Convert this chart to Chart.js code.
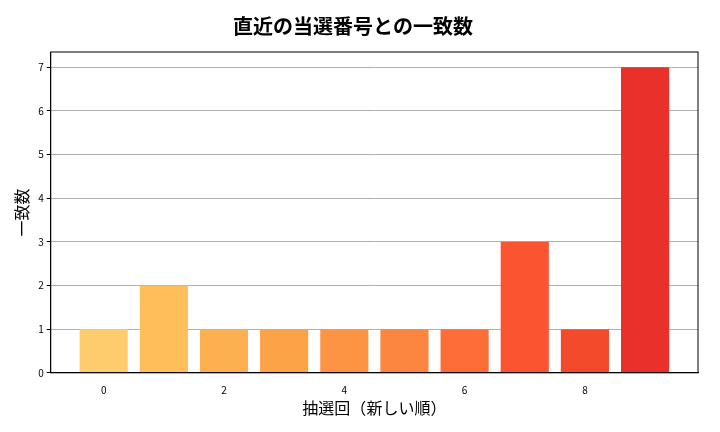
<!DOCTYPE html>
<html><head><meta charset="utf-8">
<script src="https://cdn.jsdelivr.net/npm/chart.js@4"></script>
<style>html,body{margin:0;padding:0;background:#fff}#w{width:720px;height:432px}</style>
</head><body><div id="w"><canvas id="c"></canvas></div>
<script>
const draws = [0,1,2,3,4,5,6,7,8,9];
const matches = [1,2,1,1,1,1,1,3,1,7];
const barColors = ['#FECC6C','#FEBE5A','#FDB04F','#FDA347','#FD9444','#FC8540','#FC6D38','#FB5430','#F44A2C','#E9302A'];
const xTicks = [0,2,4,6,8];
const F = "'Noto Sans CJK JP','DejaVu Sans',sans-serif";
const frame = {id:'frame',afterDraw(ch){const a=ch.chartArea,c=ch.ctx;c.save();c.strokeStyle='#000';c.lineWidth=1;c.strokeRect(a.left,a.top,a.right-a.left,a.bottom-a.top);c.restore();}};
new Chart(document.getElementById('c'),{
type:'bar',
data:{datasets:[{data:draws.map((d,i)=>({x:d,y:matches[i]})),backgroundColor:barColors,barPercentage:0.8,categoryPercentage:1}]},
options:{responsive:true,maintainAspectRatio:false,animation:false,
layout:{padding:{left:8,right:22,top:8,bottom:10}},
plugins:{legend:{display:false},tooltip:{enabled:false},
title:{display:true,text:'直近の当選番号との一致数',font:{family:F,size:20,weight:'bold'},color:'#000',padding:{top:6,bottom:14}}},
scales:{
x:{type:'linear',offset:false,min:-0.88,max:9.88,grid:{display:false,offset:false},border:{color:'#000'},
afterBuildTicks(ax){ax.ticks=xTicks.map(v=>({value:v}));},
ticks:{font:{family:F,size:10},color:'#000',maxRotation:0},
title:{display:true,text:'抽選回（新しい順）',font:{family:F,size:16},color:'#000',padding:{top:0}}},
y:{min:0,max:7.35,grid:{color:'#b0b0b0',drawTicks:true,tickColor:'#000',tickLength:4},border:{color:'#000'},
afterBuildTicks(ax){ax.ticks=[0,1,2,3,4,5,6,7].map(v=>({value:v}));},
ticks:{font:{family:F,size:10},color:'#000'},
title:{display:true,text:'一致数',font:{family:F,size:16},color:'#000'}}
}},
plugins:[frame]});
</script></body></html>
